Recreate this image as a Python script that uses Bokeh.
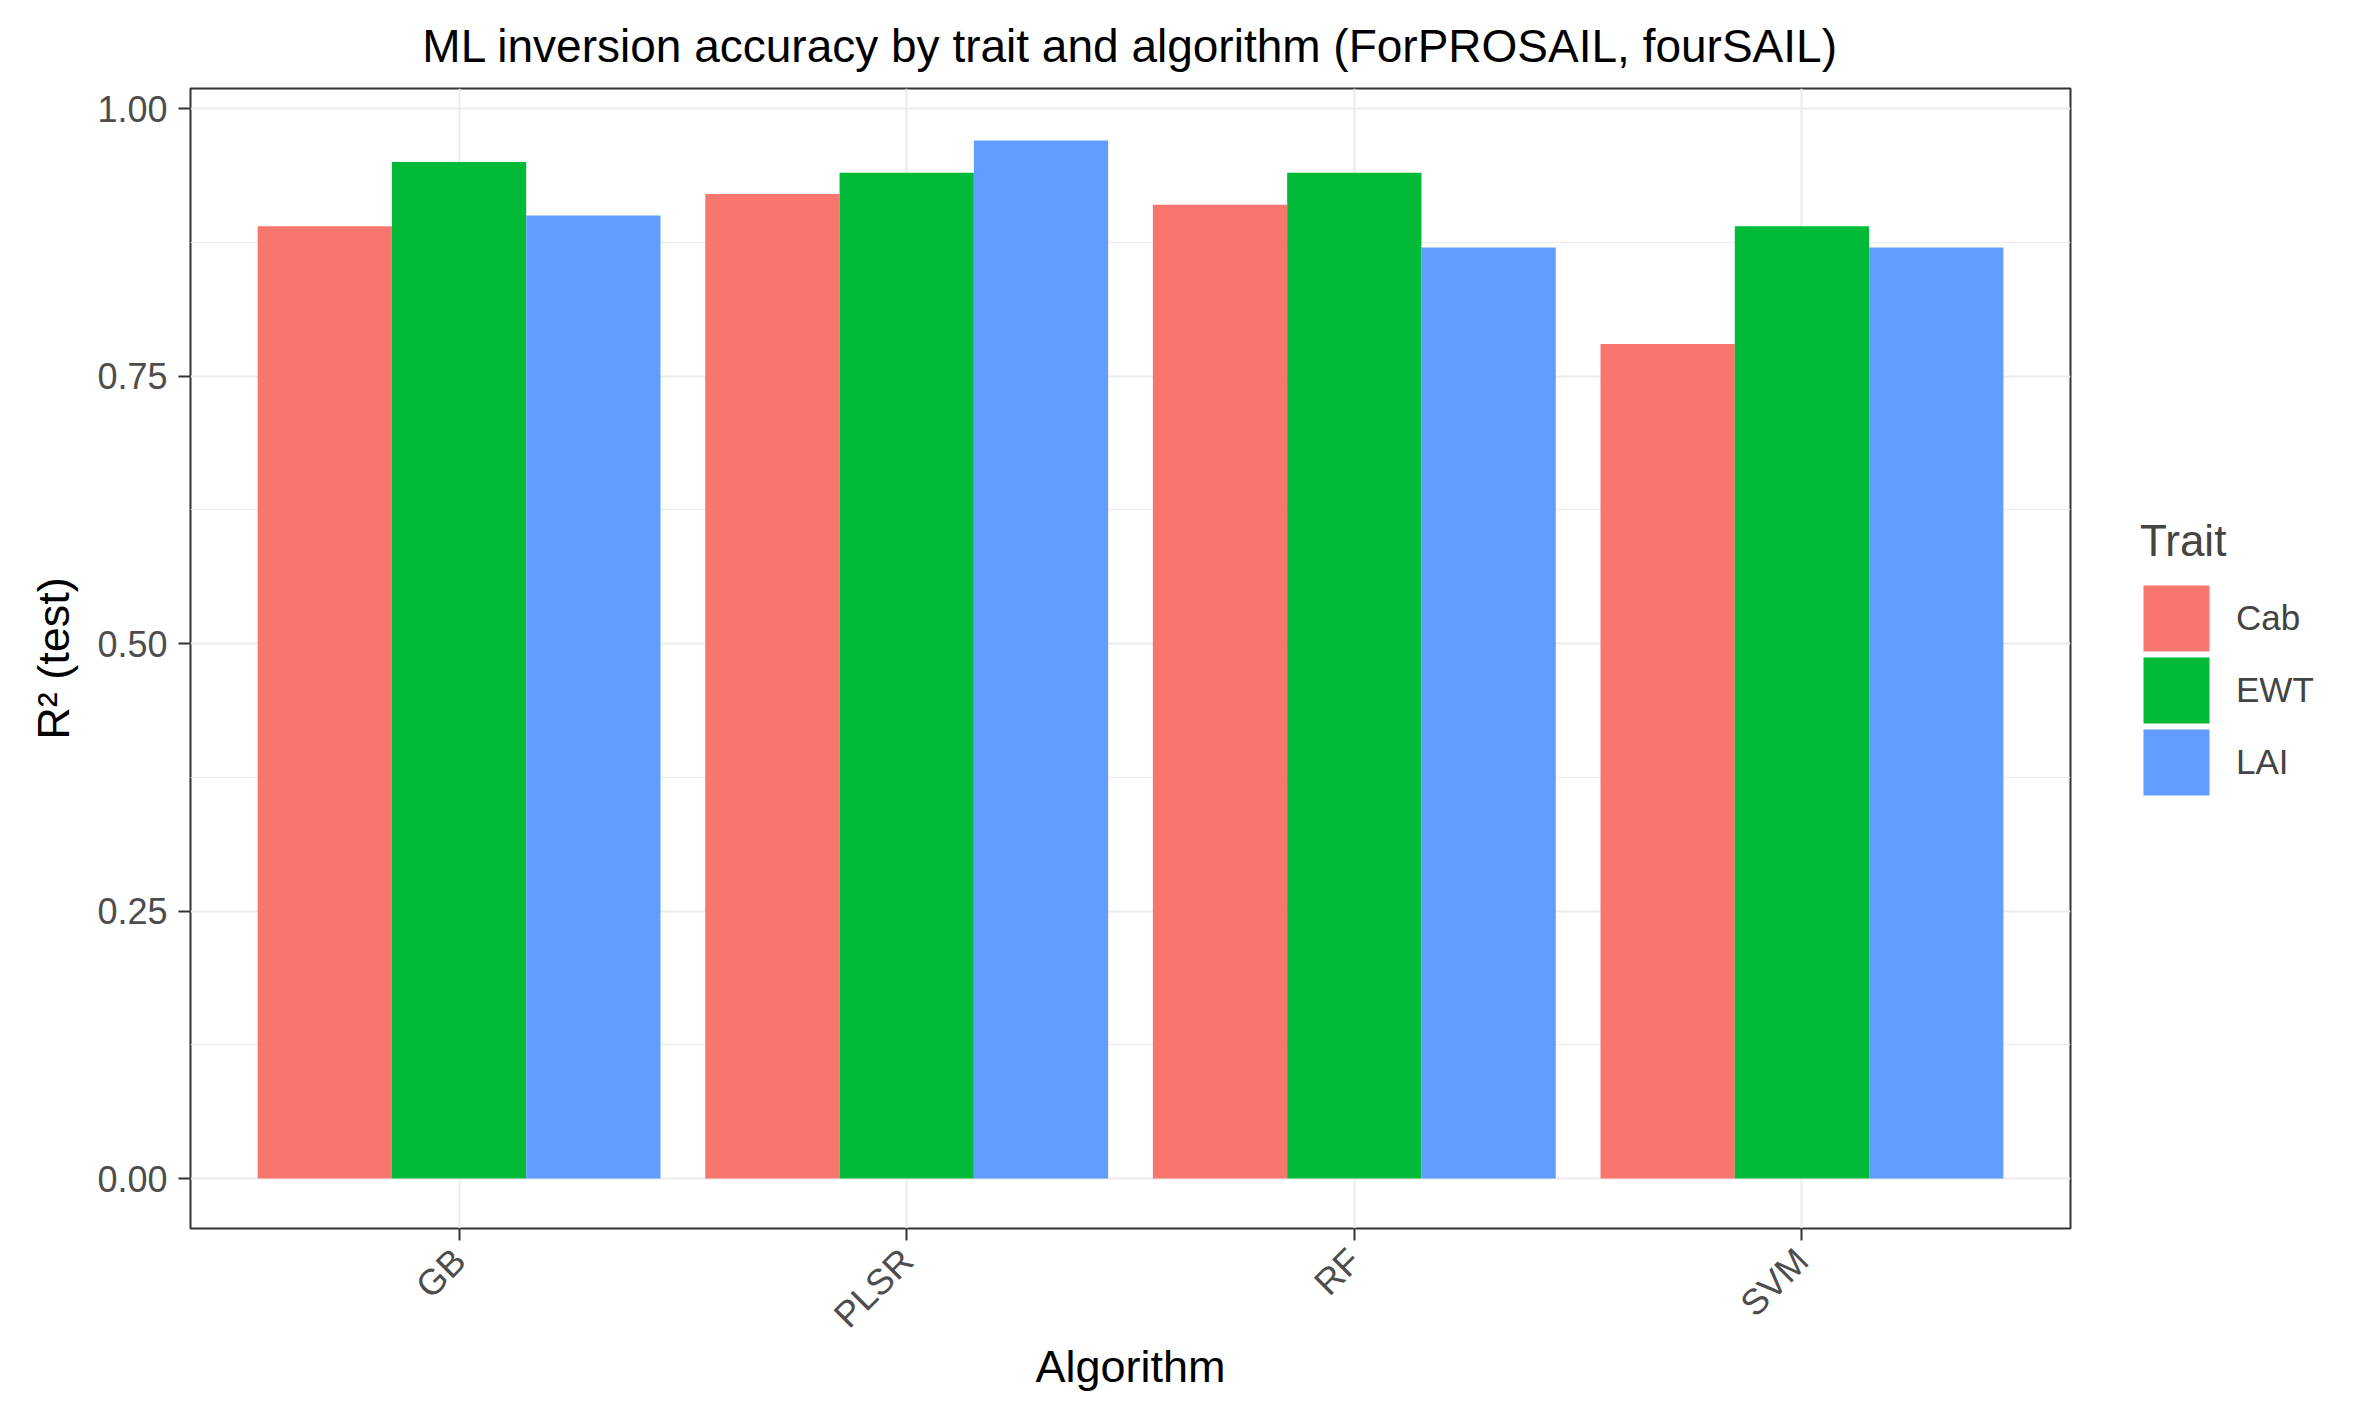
import math
from bokeh.plotting import figure
from bokeh.layouts import row
from bokeh.models import (ColumnDataSource, FactorRange, Range1d, FixedTicker, NumeralTickFormatter,
                          Legend, LegendItem)
from bokeh.transform import dodge
from bokeh.embed import file_html
from bokeh.resources import INLINE

algorithms = ["GB", "PLSR", "RF", "SVM"]
traits = ["Cab", "EWT", "LAI"]
cab = [0.89, 0.92, 0.91, 0.78]
ewt = [0.95, 0.94, 0.94, 0.89]
lai = [0.90, 0.97, 0.87, 0.87]
colors = ["#F8766D", "#00BA38", "#619CFF"]
y_ticks = [0.0, 0.25, 0.5, 0.75, 1.0]
y_minor = [0.125, 0.375, 0.625, 0.875]

source = ColumnDataSource(dict(algo=algorithms, Cab=cab, EWT=ewt, LAI=lai))

FONT = "Liberation Sans"
p = figure(width=2074, height=1401, output_backend="svg", toolbar_location=None,
           x_range=FactorRange(factors=algorithms, range_padding=0.1, range_padding_units="absolute"),
           y_range=Range1d(-0.0467, 1.0187),
           title="ML inversion accuracy by trait and algorithm (ForPROSAIL, fourSAIL)")
p.min_border_left = 190
p.min_border_top = 87
p.min_border_right = 4
p.min_border_bottom = 173
p.background_fill_color = "white"
p.border_fill_color = "white"
p.outline_line_color = "#333333"
p.outline_line_width = 2

p.title.text_font = FONT
p.title.text_font_size = "46px"
p.title.text_font_style = "normal"
p.title.align = "center"
p.title.text_color = "black"
p.title.standoff = 34

offsets = [-0.3, 0.0, 0.3]
for t, c, off in zip(traits, colors, offsets):
    p.vbar(x=dodge("algo", off, range=p.x_range), top=t, bottom=0, width=0.3,
           source=source, fill_color=c, line_color=None)

yax = p.yaxis[0]
yax.ticker = FixedTicker(ticks=y_ticks, minor_ticks=y_minor)
yax.formatter = NumeralTickFormatter(format="0.00")
xax = p.xaxis[0]
for ax in (xax, yax):
    ax.axis_line_color = None
    ax.major_tick_line_color = "#333333"
    ax.major_tick_line_width = 2
    ax.major_tick_out = 12
    ax.major_tick_in = 0
    ax.minor_tick_line_color = None
    ax.major_label_text_font = FONT
    ax.major_label_text_font_size = "36px"
    ax.major_label_text_color = "#4D4D4D"
    ax.axis_label_text_font = FONT
    ax.axis_label_text_font_size = "45px"
    ax.axis_label_text_font_style = "normal"
    ax.axis_label_text_color = "black"
yax.major_label_standoff = 11
xax.major_label_standoff = 14
yax.axis_label = "R² (test)"
yax.axis_label_standoff = 15
xax.axis_label = "Algorithm"
xax.axis_label_standoff = -12
xax.major_label_orientation = math.pi / 4

p.xgrid.grid_line_color = "#EBEBEB"
p.xgrid.grid_line_width = 2
p.ygrid.grid_line_color = "#EBEBEB"
p.ygrid.grid_line_width = 2
p.ygrid.minor_grid_line_color = "#EBEBEB"
p.ygrid.minor_grid_line_width = 1
p.ygrid.ticker = FixedTicker(ticks=y_ticks, minor_ticks=y_minor)

# legend panel (separate figure to the right of the plot panel);
# its range has no algorithm factor, so its bars are never drawn, only their legend keys
p2 = figure(width=272, height=1401, output_backend="svg", toolbar_location=None,
            x_range=FactorRange(factors=["legend"]), y_range=Range1d(0, 1))
p2.min_border_left = 0
p2.min_border_right = 0
p2.min_border_top = 0
p2.min_border_bottom = 0
p2.axis.visible = False
p2.grid.visible = False
p2.outline_line_color = None
p2.background_fill_color = "white"
p2.border_fill_color = "white"
items = []
for t, c in zip(traits, colors):
    r = p2.vbar(x="algo", top=t, bottom=0, width=0.3, source=source,
                fill_color=c, line_color=c, line_width=8.4, line_join="miter")
    items.append(LegendItem(label=t, renderers=[r]))

legend = Legend(items=items, title="Trait", location=(66, 430))
legend.title_text_font = FONT
legend.title_text_font_size = "44px"
legend.title_text_font_style = "normal"
legend.title_standoff = 16
legend.label_text_font = FONT
legend.label_text_font_size = "35px"
legend.glyph_width = 72
legend.glyph_height = 72
legend.label_height = 72
legend.label_standoff = 24
legend.spacing = 0
legend.padding = 0
legend.margin = 0
legend.border_line_color = None
legend.background_fill_color = None
p2.add_layout(legend, "center")

layout = row(p, p2, spacing=0)
open("out.html", "w").write(file_html(layout, INLINE))
